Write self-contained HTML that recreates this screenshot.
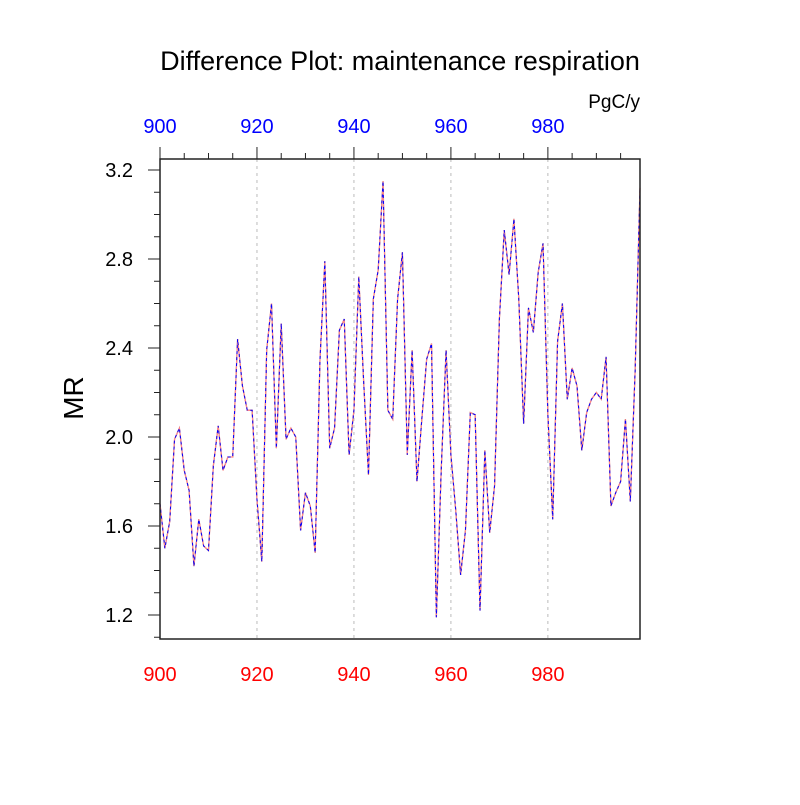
<!DOCTYPE html>
<html><head><meta charset="utf-8"><style>body{margin:0;background:#fff}svg text{font-family:"Liberation Sans",Arial,sans-serif}</style></head>
<body>
<svg id="chart" width="800" height="800" xmlns="http://www.w3.org/2000/svg">
<rect width="800" height="800" fill="#fff"/>
<g id="g"></g>
</svg>
<script>
const years = [];
for (let y = 900; y <= 999; y++) years.push(y);
const mrValues = [1.70,1.50,1.62,1.99,2.04,1.85,1.76,1.42,1.63,1.51,1.49,1.87,2.05,1.85,1.91,1.91,2.44,2.23,2.12,2.12,
1.72,1.44,2.39,2.60,1.95,2.51,1.99,2.04,2.00,1.58,1.75,1.69,1.48,2.35,2.79,1.95,2.04,2.48,2.53,1.92,
2.12,2.72,2.25,1.83,2.62,2.75,3.15,2.12,2.08,2.62,2.83,1.92,2.39,1.80,2.08,2.35,2.42,1.19,1.85,2.39,
1.92,1.67,1.38,1.58,2.11,2.10,1.22,1.94,1.57,1.78,2.53,2.93,2.73,2.98,2.62,2.06,2.58,2.47,2.74,2.87,
2.10,1.63,2.43,2.60,2.17,2.31,2.23,1.94,2.11,2.17,2.20,2.17,2.36,1.69,1.75,1.80,2.08,1.71,2.30,3.12];
const xTicks = [900,920,940,960,980];
const yTicks = [1.2,1.6,2.0,2.4,2.8,3.2];

const L=160,R=640,T=159,B=639;
const xs = v => L + (v-900)/99*(R-L);
const ys = v => 170 + (3.2-v)*222.5;
const NS="http://www.w3.org/2000/svg";
const g=document.getElementById('g');
function mk(tag,attrs,parent){const e=document.createElementNS(NS,tag);for(const k in attrs)e.setAttribute(k,attrs[k]);(parent||g).appendChild(e);return e;}

xTicks.slice(1).forEach(t=>{
 const l=mk('line',{x1:xs(t),x2:xs(t),y1:T,y2:B,stroke:'#bbb','stroke-width':1,'stroke-dasharray':'3,4'});
 
 
});
const pts=years.map((y,i)=>xs(y).toFixed(2)+','+ys(mrValues[i]).toFixed(2)).join(' ');
const l1=mk('polyline',{points:pts,fill:'none',stroke:'#000','stroke-width':1});


const l2=mk('polyline',{points:pts,fill:'none',stroke:'#f88','stroke-width':1.3});


const l3=mk('polyline',{points:pts,fill:'none',stroke:'#00f','stroke-width':1,'stroke-dasharray':'3,3'});


const fr=mk('rect',{x:L,y:T,width:R-L,height:B-T,fill:'none',stroke:'#222','stroke-width':1.5});


for(let t=900;t<=995;t+=5){
 const major=t%20===0;
 const tk=mk('line',{x1:xs(t),x2:xs(t),y1:T,y2:T-(major?12:6),stroke:'#222','stroke-width':1});
 
 
}
for(let k=11;k<=32;k++){
 const v=k/10, major=k%4===0;
 const tk=mk('line',{x1:L,x2:L-(major?12:6),y1:ys(v),y2:ys(v),stroke:'#222','stroke-width':1});
 
 
}
xTicks.forEach(t=>{
 const a=mk('text',{x:xs(t),y:133,'text-anchor':'middle','font-size':20,fill:'#00f'});a.textContent=t;
 
 
 const b=mk('text',{x:xs(t),y:681,'text-anchor':'middle','font-size':20,fill:'#f00'});b.textContent=t;
 
 
});
yTicks.forEach(v=>{
 const a=mk('text',{x:133,y:ys(v)+7,'text-anchor':'end','font-size':20,fill:'#000'});a.textContent=v.toFixed(1);
 
 
});
const ti=mk('text',{x:400,y:70,'text-anchor':'middle','font-size':27,fill:'#000'});ti.textContent='Difference Plot: maintenance respiration';


const un=mk('text',{x:640,y:108,'text-anchor':'end','font-size':19,fill:'#000'});un.textContent='PgC/y';


const yt=mk('text',{x:83,y:398,'text-anchor':'middle','font-size':28,fill:'#000',transform:'rotate(-90 83 398)'});yt.textContent='MR';


</script>
</body></html>
